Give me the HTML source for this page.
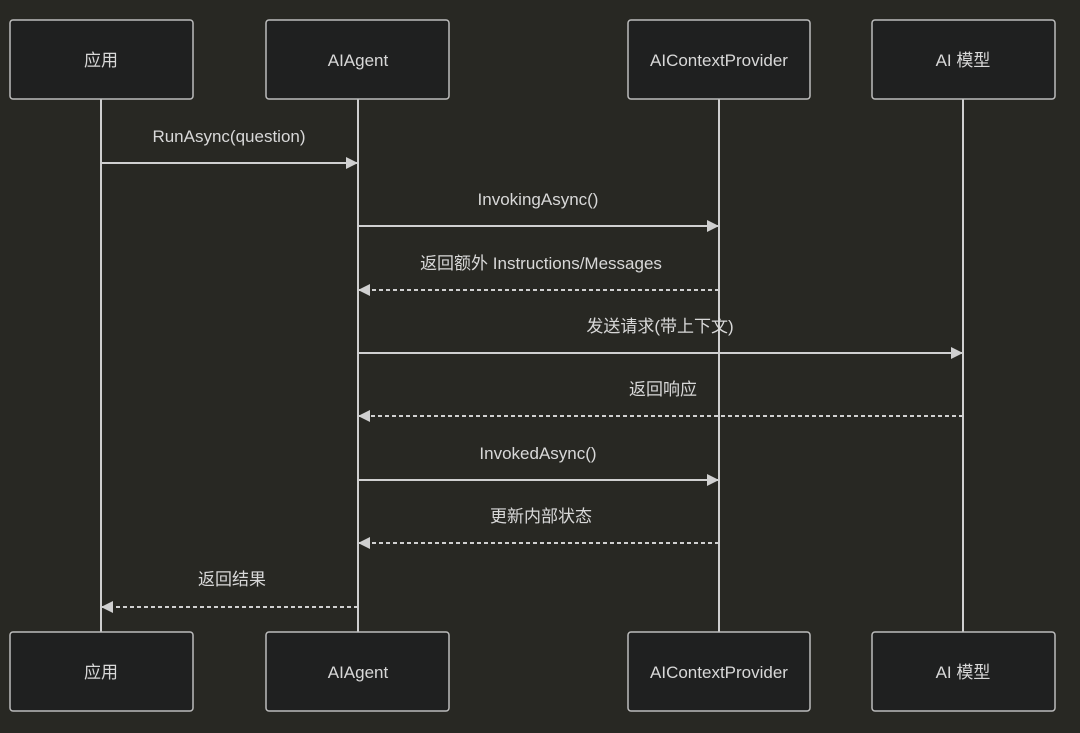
<!DOCTYPE html>
<html><head><meta charset="utf-8"><style>
html,body{margin:0;padding:0;background:#282823;}
svg{display:block}
text{font-family:"Liberation Sans","Noto Sans CJK SC",sans-serif;fill:#d8d8d8;font-size:17px;text-anchor:middle}
</style></head><body>
<svg width="1080" height="733" viewBox="0 0 1080 733" xmlns="http://www.w3.org/2000/svg">
<rect width="1080" height="733" fill="#282823"/>
<defs><marker id="a" markerWidth="12" markerHeight="12" refX="11" refY="6" orient="auto" markerUnits="userSpaceOnUse"><path d="M0,0 L12,6 L0,12 z" fill="#d0d0d0"/></marker></defs>
<g stroke="#cfcfcf" stroke-width="2">
<line x1="101" y1="99" x2="101" y2="632"/>
<line x1="358" y1="99" x2="358" y2="632"/>
<line x1="719" y1="99" x2="719" y2="632"/>
<line x1="963" y1="99" x2="963" y2="632"/>
</g>
<g fill="#1f2020" stroke="#bcbcbc" stroke-width="1.5">
<rect x="10" y="20" width="183" height="79" rx="3"/>
<rect x="266" y="20" width="183" height="79" rx="3"/>
<rect x="628" y="20" width="182" height="79" rx="3"/>
<rect x="872" y="20" width="183" height="79" rx="3"/>
<rect x="10" y="632" width="183" height="79" rx="3"/>
<rect x="266" y="632" width="183" height="79" rx="3"/>
<rect x="628" y="632" width="182" height="79" rx="3"/>
<rect x="872" y="632" width="183" height="79" rx="3"/>
</g>
<text x="101" y="66">应用</text><text x="358" y="66">AIAgent</text><text x="719" y="66">AIContextProvider</text><text x="963" y="66">AI 模型</text>
<text x="101" y="678">应用</text><text x="358" y="678">AIAgent</text><text x="719" y="678">AIContextProvider</text><text x="963" y="678">AI 模型</text>
<g stroke="#d0d0d0" stroke-width="2" marker-end="url(#a)">
<line x1="101" y1="163" x2="357" y2="163"/>
<line x1="358" y1="226" x2="718" y2="226"/>
<line x1="719" y1="290" x2="359" y2="290" stroke-dasharray="4,3"/>
<line x1="358" y1="353" x2="962" y2="353"/>
<line x1="963" y1="416" x2="359" y2="416" stroke-dasharray="4,3"/>
<line x1="358" y1="480" x2="718" y2="480"/>
<line x1="719" y1="543" x2="359" y2="543" stroke-dasharray="4,3"/>
<line x1="358" y1="607" x2="102" y2="607" stroke-dasharray="4,3"/>
</g>
<text x="229" y="142">RunAsync(question)</text>
<text x="538" y="205">InvokingAsync()</text>
<text x="541" y="269">返回额外 Instructions/Messages</text>
<text x="660" y="332">发送请求(带上下文)</text>
<text x="663" y="395">返回响应</text>
<text x="538" y="459">InvokedAsync()</text>
<text x="541" y="522">更新内部状态</text>
<text x="232" y="585">返回结果</text>
</svg>
</body></html>
